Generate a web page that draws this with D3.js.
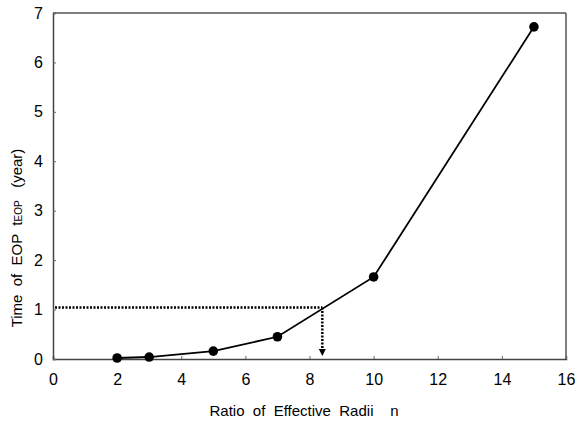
<!DOCTYPE html>
<html><head><meta charset="utf-8">
<script src="https://cdn.jsdelivr.net/npm/d3@7"></script>
<style>body{margin:0;background:#fff}svg{display:block}text{font-family:"Liberation Sans",Arial,sans-serif;fill:#000}</style>
</head><body>
<svg id="c" width="577" height="426"></svg>
<script>
const xValues = [2, 3, 5, 7, 10, 15];
const yValues = [0.02, 0.04, 0.16, 0.45, 1.66, 6.72];
const xTicks = [0, 2, 4, 6, 8, 10, 12, 14, 16];
const yTicks = [0, 1, 2, 3, 4, 5, 6, 7];
const guideX = [0, 8.4];
const guideY = [1.04];

const svg = d3.select("#c");
const m = {l:53, t:13, r:566, b:359};
const x = d3.scaleLinear().domain([0,16]).range([m.l, m.r]);
const y = d3.scaleLinear().domain([0,7]).range([m.b, m.t]);

// border (top/right)
svg.append("line").attr("x1",m.l).attr("x2",m.r).attr("y1",m.t).attr("y2",m.t).attr("stroke","#555").attr("stroke-width",1.5);
svg.append("line").attr("x1",m.r).attr("x2",m.r).attr("y1",m.t).attr("y2",m.b).attr("stroke","#555").attr("stroke-width",1.5);

const xAxis = svg.append("g").attr("transform",`translate(0,${m.b})`)
  .call(d3.axisBottom(x).tickValues(xTicks).tickSize(-3).tickPadding(15).tickFormat(d3.format("d")));
const yAxis = svg.append("g").attr("transform",`translate(${m.l},0)`)
  .call(d3.axisLeft(y).tickValues(yTicks).tickSize(-3).tickPadding(10).tickFormat(d3.format("d")));
[xAxis,yAxis].forEach(a=>{
  a.select(".domain").attr("stroke","#444").attr("stroke-width",1.5);
  a.selectAll(".tick line").attr("stroke","#666");
  a.selectAll("text").style("font-size","16px").attr("fill","#000");
});
xAxis.selectAll("text").attr("dy","0.71em");

// guide lines
svg.append("line").attr("x1",x(guideX[0])+2).attr("x2",x(guideX[1])).attr("y1",y(guideY[0])).attr("y2",y(guideY[0]))
  .attr("stroke","#000").attr("stroke-width",2.5).attr("stroke-dasharray","2,1.5");
svg.append("line").attr("x1",x(guideX[1])).attr("x2",x(guideX[1])).attr("y1",y(guideY[0])).attr("y2",y(0)-8)
  .attr("stroke","#000").attr("stroke-width",2.5).attr("stroke-dasharray","2,1.5");
svg.append("path").attr("d",`M${x(guideX[1])-3.5},${y(0)-10}L${x(guideX[1])+3.5},${y(0)-10}L${x(guideX[1])},${y(0)-3}Z`).attr("fill","#000");

// series
const pts = xValues.map((v,i)=>[v,yValues[i]]);
svg.append("path").datum(pts).attr("fill","none").attr("stroke","#000").attr("stroke-width",1.8)
  .attr("d",d3.line().x(d=>x(d[0])).y(d=>y(d[1])));
svg.selectAll("circle.pt").data(pts).join("circle").attr("class","pt")
  .attr("cx",d=>x(d[0])).attr("cy",d=>y(d[1])).attr("r",4.8).attr("fill","#000");

// titles
svg.append("text").attr("x",304).attr("y",416).attr("text-anchor","middle").style("font-size","15px").style("white-space","pre")
  .text("Ratio  of  Effective  Radii    n");
const yt = svg.append("text").attr("transform","translate(22,238) rotate(-90)").attr("text-anchor","middle").style("font-size","15px").style("white-space","pre");
yt.append("tspan").text("Time  of  EOP  t");
yt.append("tspan").style("font-size","10px").text("EOP");
yt.append("tspan").text("   (year)");
</script>
</body></html>
